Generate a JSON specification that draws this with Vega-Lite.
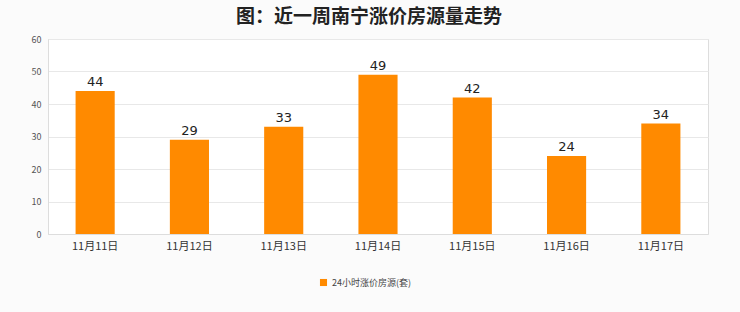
{
  "$schema": "https://vega.github.io/schema/vega-lite/v6.json",
  "autosize": {"type": "none"},
  "width": 660,
  "height": 195,
  "padding": {"left": 48, "top": 39, "right": 32, "bottom": 78},
  "background": "#fbfbfb",
  "title": {
    "text": "图：近一周南宁涨价房源量走势",
    "font": "Noto Sans CJK SC",
    "fontSize": 19,
    "fontWeight": "bold",
    "color": "#222222",
    "anchor": "middle",
    "dx": -9,
    "offset": 8
  },
  "data": {
    "values": [
      {"date": "11月11日", "value": 44, "series": "24小时涨价房源(套)"},
      {"date": "11月12日", "value": 29, "series": "24小时涨价房源(套)"},
      {"date": "11月13日", "value": 33, "series": "24小时涨价房源(套)"},
      {"date": "11月14日", "value": 49, "series": "24小时涨价房源(套)"},
      {"date": "11月15日", "value": 42, "series": "24小时涨价房源(套)"},
      {"date": "11月16日", "value": 24, "series": "24小时涨价房源(套)"},
      {"date": "11月17日", "value": 34, "series": "24小时涨价房源(套)"}
    ]
  },
  "config": {
    "view": {"stroke": "#dddddd", "fill": "#ffffff"},
    "axis": {"labelFont": "Noto Sans CJK SC"},
    "legend": {"labelFont": "Noto Sans CJK SC"}
  },
  "encoding": {
    "x": {
      "field": "date",
      "type": "nominal",
      "sort": null,
      "scale": {"paddingInner": 0.585, "paddingOuter": 0.2925},
      "axis": {
        "title": null,
        "labelAngle": 0,
        "ticks": false,
        "labelPadding": 6,
        "labelFontSize": 11,
        "labelColor": "#333333",
        "domainColor": "#dddddd",
        "grid": false
      }
    },
    "y": {
      "field": "value",
      "type": "quantitative",
      "scale": {"domain": [0, 60], "nice": false},
      "axis": {
        "title": null,
        "values": [0, 10, 20, 30, 40, 50, 60],
        "ticks": false,
        "labelPadding": 7,
        "labelFontSize": 9,
        "labelColor": "#555555",
        "domainColor": "#dddddd",
        "gridColor": "#e8e8e8"
      }
    }
  },
  "layer": [
    {
      "mark": {"type": "bar", "color": "#ff8a00"},
      "encoding": {
        "color": {
          "field": "series",
          "type": "nominal",
          "scale": {"range": ["#ff8a00"]},
          "legend": {
            "title": null,
            "orient": "none",
            "legendX": 271,
            "legendY": 239,
            "symbolType": "square",
            "symbolSize": 50,
            "labelFontSize": 9,
            "labelColor": "#444444"
          }
        }
      }
    },
    {
      "mark": {
        "type": "text",
        "dy": -9,
        "fontSize": 13,
        "font": "DejaVu Sans",
        "color": "#222222"
      },
      "encoding": {"text": {"field": "value", "type": "quantitative"}}
    }
  ]
}
